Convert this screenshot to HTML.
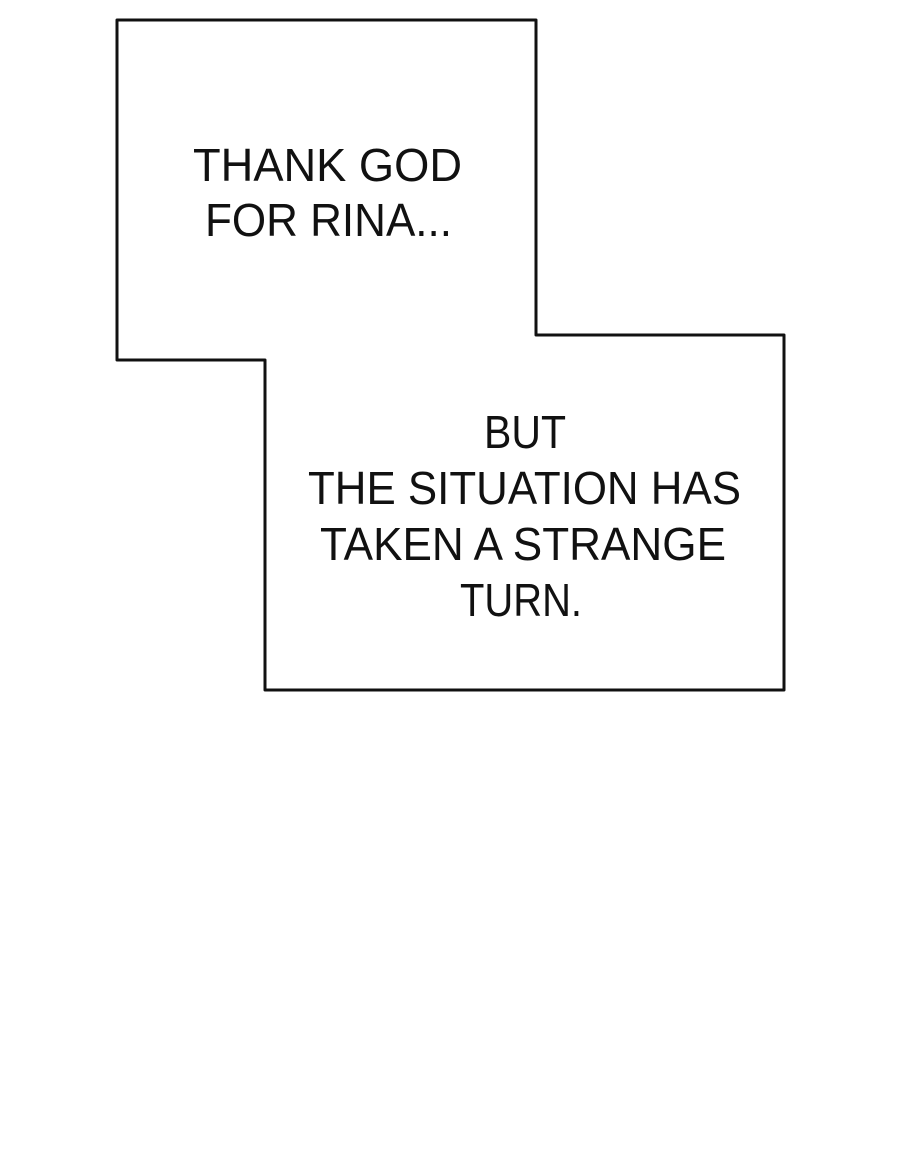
<!DOCTYPE html>
<html><head><meta charset="utf-8"><style>
html,body{margin:0;padding:0;background:#fff;}
svg{display:block;}
text{font-family:"Liberation Sans",sans-serif;font-size:46px;fill:#111;}
</style></head><body>
<svg width="898" height="1161" viewBox="0 0 898 1161" xmlns="http://www.w3.org/2000/svg">
<rect width="898" height="1161" fill="#fff"/>
<path d="M117,20 L536,20 L536,335 L784,335 L784,690 L265,690 L265,360 L117,360 Z" fill="#fff" stroke="#111" stroke-width="3" stroke-linejoin="round"/>
<text x="193" y="181" textLength="269" lengthAdjust="spacingAndGlyphs">THANK GOD</text>
<text x="205" y="236" textLength="247" lengthAdjust="spacingAndGlyphs">FOR RINA...</text>
<text x="484" y="448" textLength="82" lengthAdjust="spacingAndGlyphs">BUT</text>
<text x="308" y="504" textLength="433" lengthAdjust="spacingAndGlyphs">THE SITUATION HAS</text>
<text x="320" y="560" textLength="406" lengthAdjust="spacingAndGlyphs">TAKEN A STRANGE</text>
<text x="460" y="616" textLength="122" lengthAdjust="spacingAndGlyphs">TURN.</text>
</svg>
</body></html>
